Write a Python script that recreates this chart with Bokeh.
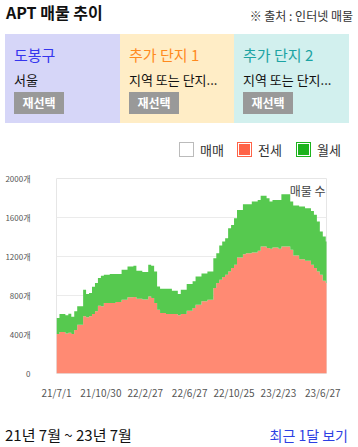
from bokeh.plotting import figure
from bokeh.models import Div, FixedTicker, Label, ColumnDataSource
from bokeh.layouts import column
from bokeh.embed import file_html
from bokeh.resources import INLINE

# ---------------- data ----------------
SAMPLE_DAYS = 8  # one sample every 8 days starting 2021-07-01

jeonse = [406, 426, 426, 409, 419, 406, 447, 501, 501, 587, 576, 587, 610, 638, 696, 689,
          723, 723, 723, 723, 733, 733, 757, 757, 781, 781, 784, 767, 767, 760, 760, 791,
          774, 723, 655, 621, 621, 610, 610, 610, 610, 597, 610, 610, 644, 644, 672, 706,
          706, 740, 740, 757, 757, 876, 928, 962, 989, 1013, 1047, 1081, 1115, 1190, 1190,
          1224, 1234, 1234, 1241, 1241, 1258, 1303, 1303, 1286, 1279, 1292, 1292, 1279,
          1303, 1303, 1303, 1269, 1211, 1211, 1173, 1173, 1156, 1156, 1115, 1081, 1047,
          1013, 951, 928]

wolse = [163, 184, 184, 188, 195, 177, 191, 188, 188, 272, 239, 238, 280, 290, 283, 314,
         290, 290, 297, 297, 287, 287, 307, 307, 317, 317, 321, 287, 287, 280, 280, 324,
         331, 324, 238, 249, 249, 260, 260, 239, 239, 218, 249, 249, 273, 273, 273, 290,
         290, 286, 286, 290, 290, 307, 306, 351, 365, 375, 443, 443, 477, 488, 488,
         512, 502, 502, 522, 522, 522, 521, 521, 511, 484, 488, 488, 501,
         535, 535, 535, 494, 511, 511, 539, 539, 539, 539, 552, 546, 511,
         443, 454, 426]

x_tick_days = [0, 120, 240, 360, 480, 600, 720]
x_tick_labels = ["21/7/1", "21/10/30", "22/2/27", "22/6/27", "22/10/25", "23/2/23", "23/6/27"]
y_ticks = [0, 400, 800, 1200, 1600, 2000]
y_tick_labels = ["0", "400개", "800개", "1200개", "1600개", "2000개"]

legend_names = ["매매", "전세", "월세"]
panel_titles = ["도봉구", "추가 단지 1", "추가 단지 2"]
panel_subs = ["서울", "지역 또는 단지...", "지역 또는 단지..."]

FONT = "Noto Sans CJK KR"
C_JEONSE = "#FF8A73"
C_WOLSE = "#56C94F"

# ---------------- chart ----------------
n = len(jeonse)
xs = [SAMPLE_DAYS * i for i in range(n + 1)]
top_j = jeonse + [jeonse[-1]]
tot = [a + b for a, b in zip(jeonse, wolse)]
tot = tot + [tot[-1]]
src = ColumnDataSource(dict(x=xs, zero=[0] * (n + 1), j=top_j, t=tot))

p = figure(width=350, height=235, x_range=(0, 730), y_range=(0, 2000),
           output_backend="svg", toolbar_location=None,
           min_border_left=56, min_border_right=24, min_border_top=8, min_border_bottom=32)
p.varea_step(x="x", y1="zero", y2="j", source=src, step_mode="after", fill_color=C_JEONSE)
p.varea_step(x="x", y1="j", y2="t", source=src, step_mode="after", fill_color=C_WOLSE)

p.outline_line_color = "#E6E6E6"
p.xgrid.visible = False
p.ygrid.grid_line_color = "#EBEBEB"

for ax in (p.xaxis, p.yaxis):
    ax.axis_line_color = None
    ax.major_tick_line_color = None
    ax.minor_tick_line_color = None
    ax.major_tick_out = 0
    ax.major_tick_in = 0
    ax.minor_tick_out = 0
    ax.minor_tick_in = 0
    ax.major_label_text_font = FONT
    ax.major_label_text_color = "#555555"

p.xaxis.ticker = FixedTicker(ticks=x_tick_days)
p.xaxis.major_label_overrides = dict(zip(x_tick_days, x_tick_labels))
p.xaxis.major_label_standoff = 11
p.xaxis.major_label_text_font_size = "10px"

p.yaxis.ticker = FixedTicker(ticks=y_ticks)
p.yaxis.major_label_overrides = dict(zip(y_ticks, y_tick_labels))
p.yaxis.major_label_standoff = 26
p.yaxis.major_label_text_font_size = "8px"

p.add_layout(Label(x=269, y=1882, x_units="screen", y_units="data", text="매물 수",
                   text_align="right", text_baseline="middle", text_font_size="12px",
                   text_font=FONT, text_color="#444444"))

# ---------------- header ----------------
panel_left = [5, 120, 234]
panel_width = [115, 114, 115]
panel_bg = ["#D6D6F8", "#FFEDC6", "#D2F0EE"]
panel_color = ["#3535EE", "#FF8A1E", "#1BA3A3"]

panels = ""
for L, W, bg, c, t, s in zip(panel_left, panel_width, panel_bg, panel_color, panel_titles, panel_subs):
    panels += (
        f'<div style="position:absolute;left:{L}px;top:34px;width:{W}px;height:89px;background:{bg};">'
        f'<div style="position:absolute;left:9px;top:13px;font-size:15px;line-height:15px;color:{c};white-space:nowrap;">{t}</div>'
        f'<div style="position:absolute;left:9px;top:39px;font-size:13px;line-height:13px;color:#111;white-space:nowrap;">{s}</div>'
        f'<div style="position:absolute;left:9px;top:58px;width:50px;height:22px;background:#999999;color:#fff;'
        f'font-size:12px;line-height:22px;font-weight:bold;text-align:center;">재선택</div>'
        f'</div>'
    )

legend_box_left = [179, 237, 296]
legend_text_left = [200, 258, 317]
legend_fill = ["#FFFFFF", "#FF6347", "#1DB31D"]
legend_border = ["#BBBBBB", "#FF6347", "#1DB31D"]
legend = ""
for bl, tl, f, b, name in zip(legend_box_left, legend_text_left, legend_fill, legend_border, legend_names):
    inset = "" if f == "#FFFFFF" else "box-shadow:inset 0 0 0 1px #fff;"
    legend += (
        f'<div style="position:absolute;left:{bl}px;top:142px;width:15px;height:15px;box-sizing:border-box;'
        f'border:1px solid {b};background:{f};{inset}"></div>'
        f'<div style="position:absolute;left:{tl}px;top:143px;font-size:13px;line-height:13px;color:#333;white-space:nowrap;">{name}</div>'
    )

top_html = (
    f'<div style="position:relative;width:358px;height:170px;font-family:\'{FONT}\',sans-serif;">'
    f'<div style="position:absolute;left:6px;top:4px;font-size:16px;line-height:16px;font-weight:bold;color:#111;white-space:nowrap;">APT 매물 추이</div>'
    f'<div style="position:absolute;right:5px;top:10px;font-size:12px;line-height:12px;color:#333;white-space:nowrap;">※ 출처 : 인터넷 매물</div>'
    f'{panels}{legend}</div>'
)
top_div = Div(text=top_html, width=358, height=170, margin=0)

bottom_html = (
    f'<div style="position:relative;width:358px;height:42px;font-family:\'{FONT}\',sans-serif;">'
    f'<div style="position:absolute;left:5px;top:22px;font-size:15px;line-height:15px;color:#111;white-space:nowrap;">21년 7월 ~ 23년 7월</div>'
    f'<div style="position:absolute;right:10px;top:23px;font-size:14px;line-height:14px;color:#2D3FE3;white-space:nowrap;">최근 1달 보기</div>'
    f'</div>'
)
bottom_div = Div(text=bottom_html, width=358, height=42, margin=0)

layout = column(top_div, p, bottom_div, spacing=0)
open("out.html", "w").write(file_html(layout, INLINE))
